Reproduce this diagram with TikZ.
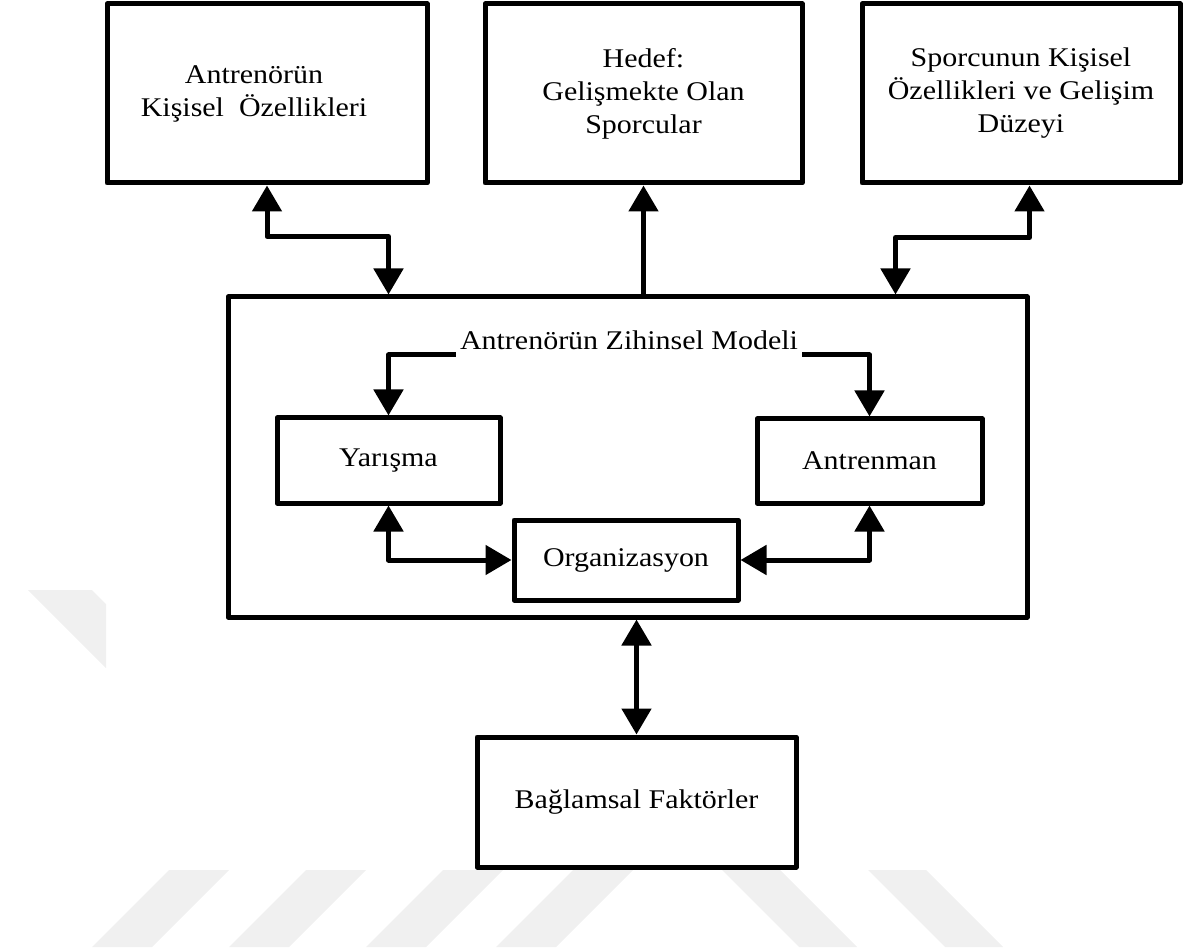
\documentclass[tikz,border=0pt]{standalone}
\usepackage{fontspec}
\setmainfont{Liberation Serif}[FakeStretch=1.11]
\usepackage{tikz}
\usetikzlibrary{arrows.meta}

\begin{document}
\begin{tikzpicture}[x=0.5pt,y=-0.5pt,line width=2.5pt,line join=round,
                    >={Triangle[length=13pt,width=14.5pt]},node distance=172.5pt]
\tikzstyle{box}=[rectangle,draw=black,text=black,align=center,inner sep=2pt]
\tikzset{font=\fontsize{13.5pt}{16.5pt}\selectfont}

\useasboundingbox (0,0) rectangle (1187,951);

        % watermark
        \fill[gray!12] (28,590) -- (92,590) -- (106,604) -- (106,668) -- cycle;
        \fill[gray!12] (92,947) -- (152,947) -- (229,870) -- (169,870) -- cycle;
        \fill[gray!12] (229,947) -- (289,947) -- (366,870) -- (306,870) -- cycle;
        \fill[gray!12] (366,947) -- (426,947) -- (503,870) -- (443,870) -- cycle;
        \fill[gray!12] (496,947) -- (556,947) -- (633,870) -- (573,870) -- cycle;
        \fill[gray!12] (722,870) -- (780,870) -- (857,947) -- (799,947) -- cycle;
        \fill[gray!12] (868,870) -- (926,870) -- (1003,947) -- (945,947) -- cycle;

        \node[box,minimum width=160pt,minimum height=89.5pt]      (A) at (267,93.5)    {Antrenörün\hspace*{13pt}\\Kişisel~ Özellikleri\hspace*{13pt}};
        \node[box,minimum width=158.5pt,minimum height=89.5pt]    (H) at (643.5,93.5)  {Hedef:\\Gelişmekte Olan\\Sporcular};
        \node[box,minimum width=159pt,minimum height=89.5pt]      (S) at (1021,93.5)   {Sporcunun Kişisel\\Özellikleri ve Gelişim\\Düzeyi};

        \node[box,minimum width=399.5pt,minimum height=160pt]     (M) at (627.5,457)   {};
        \node[inner sep=1pt,anchor=base]                          (T) at (629,350)     {Antrenörün Zihinsel Modeli};

        \node[box,minimum width=111.5pt,minimum height=42.5pt]    (Y) at (388.5,460.5) {Yarışma};
        \node[box,minimum width=112.5pt,minimum height=42pt]      (N) at (869.5,461)   {Antrenman};
        \node[box,minimum width=112pt,minimum height=40pt]        (O) at (626,560)     {Organizasyon};

        \node[box,minimum width=159.5pt,minimum height=65pt,xshift=4.5pt] (B) [below of=M] {Bağlamsal Faktörler};

        \draw[<->] (A.south) -- ++(0,51) -| ([xshift=81.5pt]M.north west);
        \draw[->]  (H.south |- M.north) -- (H.south);
        \draw[<->] (M.north east |- S.south) -- ++(0,52) -| ([xshift=-67pt]M.north east);

        \draw[->]  ([yshift=-2.5pt]T.base west) -| (Y.north);
        \draw[->]  ([yshift=-2.5pt]T.base east) -| (N.north);
        \draw[<->] (Y.south) |- (O.west);
        \draw[<->] (N.south) |- (O.east);

        \draw[<->] (M.south -| B.north) -- (B.north); %end paths

\end{tikzpicture}
\end{document}
